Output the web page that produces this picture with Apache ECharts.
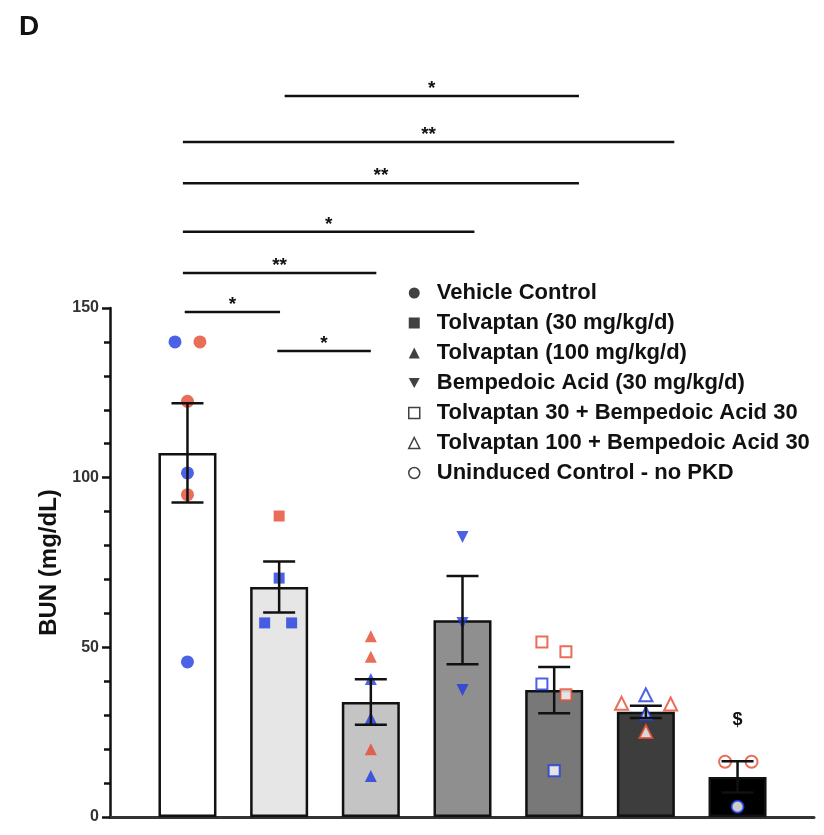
<!doctype html>
<html>

<head>
	<meta charset="utf-8">
	<script src="https://cdn.jsdelivr.net/npm/echarts@6/dist/echarts.min.js"></script>
	<style>
		html, body { margin: 0; padding: 0; background: #fff; }
		#chart { width: 824px; height: 835px; }
	</style>
</head>

<body>
	<div id="chart"></div>
</body>
<script type="text/javascript">
	// groups, in order along the x axis
	var groupNames = [
		'Vehicle Control',
		'Tolvaptan (30 mg/kg/d)',
		'Tolvaptan (100 mg/kg/d)',
		'Bempedoic Acid (30 mg/kg/d)',
		'Tolvaptan 30 + Bempedoic Acid 30',
		'Tolvaptan 100 + Bempedoic Acid 30',
		'Uninduced Control - no PKD'
	];
	var meanValues = [107.3, 67.8, 33.9, 58.0, 37.4, 31.0, 11.8];
	var semValues = [14.6, 7.5, 6.7, 13.0, 6.8, 1.8, 4.6];

	// individual animals per group (value, jitter in category units, colour b/r)
	var vehicleVals = [140, 140, 122.5, 101.4, 95.0, 45.7];
	var vehicleJitter = [-0.136, 0.136, 0, 0, 0, 0];
	var vehicleColor = ['b', 'r', 'r', 'b', 'r', 'b'];

	var tol30Vals = [88.7, 70.4, 57.2, 57.2];
	var tol30Jitter = [0, 0, -0.158, 0.136];
	var tol30Color = ['r', 'b', 'b', 'b'];

	var tol100Vals = [53.3, 47.2, 40.7, 29.2, 20.0, 12.1];
	var tol100Jitter = [0, 0, 0, 0, 0, 0];
	var tol100Color = ['r', 'r', 'b', 'b', 'r', 'b'];

	var bempVals = [82.5, 57.2, 37.4];
	var bempJitter = [0, 0, 0];
	var bempColor = ['b', 'b', 'b'];

	var combo30Vals = [51.6, 48.7, 39.2, 36.0, 13.6];
	var combo30Jitter = [-0.134, 0.128, -0.134, 0.128, 0];
	var combo30Color = ['r', 'r', 'b', 'r', 'b'];

	var combo100Vals = [33.5, 36.0, 33.3, 30.5, 25.2];
	var combo100Jitter = [-0.265, 0, 0.27, 0, 0];
	var combo100Color = ['r', 'b', 'r', 'b', 'r'];

	var uninducedVals = [16.3, 16.3, 3.0];
	var uninducedJitter = [-0.136, 0.153, 0];
	var uninducedColor = ['r', 'r', 'b'];

	// significance brackets: from, to (category units), height (mg/dL), label
	var bracketFrom = [1.06, -0.05, -0.05, -0.05, -0.05, -0.03, 0.98];
	var bracketTo = [4.27, 5.31, 4.27, 3.13, 2.06, 1.01, 2.0];
	var bracketLevel = [212.5, 198.9, 186.8, 172.5, 160.3, 148.8, 137.3];
	var bracketText = ['*', '**', '**', '*', '**', '*', '*'];

	var noteX = [6];
	var noteY = [28.6];
	var noteText = ['$'];

	var yTicks = [0, 50, 100, 150];

	var barColors = ['#ffffff', '#e6e6e6', '#c4c4c4', '#8f8f8f', '#787878', '#3d3d3d', '#000000'];
	var shapes = ['circle', 'rect', 'triangle', 'path://M0,0L2,0L1,1.8Z', 'rect', 'triangle', 'circle'];
	var sizes = [13, 11, 12, 12, 11, 13, 12];
	var openMarker = [false, false, false, false, true, true, true];
	var pal = { b: '#1f3be0', r: '#e4482e' };

	var pointSets = [
		[vehicleVals, vehicleJitter, vehicleColor],
		[tol30Vals, tol30Jitter, tol30Color],
		[tol100Vals, tol100Jitter, tol100Color],
		[bempVals, bempJitter, bempColor],
		[combo30Vals, combo30Jitter, combo30Color],
		[combo100Vals, combo100Jitter, combo100Color],
		[uninducedVals, uninducedJitter, uninducedColor]
	];

	var series = [];

	series.push({
		type: 'bar',
		barWidth: 58,
		z: 1,
		data: meanValues.map(function(v, i) {
			return {
				value: [i, v],
				itemStyle: { color: barColors[i], borderColor: '#111', borderWidth: 2.5 }
			};
		}),
		silent: true
	});

	pointSets.forEach(function(set, g) {
		var vals = set[0], jit = set[1], cols = set[2];
		series.push({
			name: groupNames[g],
			type: 'scatter',
			symbol: shapes[g],
			symbolSize: sizes[g],
			z: 2,
			data: vals.map(function(v, k) {
				var c = pal[cols[k]];
				return {
					value: [g + jit[k], v],
					itemStyle: openMarker[g] ?
						{ color: '#fff', borderColor: c, borderWidth: 2 } :
						{ color: c, borderWidth: 0 }
				};
			})
		});
	});

	// error bars (mean +/- SEM)
	series.push({
		type: 'custom',
		z: 3,
		silent: true,
		data: meanValues.map(function(v, i) {
			return [i, v - semValues[i], v + semValues[i]];
		}),
		renderItem: function(params, api) {
			var lo = api.coord([api.value(0), api.value(1)]);
			var hi = api.coord([api.value(0), api.value(2)]);
			var w = 16;
			var st = { stroke: '#111', lineWidth: 2.5 };
			return {
				type: 'group',
				children: [
					{ type: 'line', shape: { x1: lo[0], y1: lo[1], x2: hi[0], y2: hi[1] }, style: st },
					{ type: 'line', shape: { x1: lo[0] - w, y1: lo[1], x2: lo[0] + w, y2: lo[1] }, style: st },
					{ type: 'line', shape: { x1: hi[0] - w, y1: hi[1], x2: hi[0] + w, y2: hi[1] }, style: st }
				]
			};
		}
	});

	// significance brackets
	series.push({
		type: 'custom',
		z: 3,
		silent: true,
		clip: false,
		data: bracketLevel.map(function(lv, i) {
			return [bracketFrom[i], bracketTo[i], lv];
		}),
		renderItem: function(params, api) {
			var a = api.coord([api.value(0), api.value(2)]);
			var b = api.coord([api.value(1), api.value(2)]);
			return {
				type: 'group',
				children: [
					{ type: 'line', shape: { x1: a[0], y1: a[1], x2: b[0], y2: b[1] }, style: { stroke: '#111', lineWidth: 2.5 } },
					{
						type: 'text',
						x: (a[0] + b[0]) / 2,
						y: a[1] - 7,
						style: {
							text: bracketText[params.dataIndex],
							fill: '#111',
							font: 'bold 19px "Liberation Sans", Arial, sans-serif',
							align: 'center',
							verticalAlign: 'middle'
						}
					}
				]
			};
		}
	});

	series.push({
		type: 'custom',
		z: 3,
		silent: true,
		clip: false,
		data: noteX.map(function(x, i) { return [x, noteY[i]]; }),
		renderItem: function(params, api) {
			var p = api.coord([api.value(0), api.value(1)]);
			return {
				type: 'text',
				x: p[0],
				y: p[1],
				style: {
					text: noteText[params.dataIndex],
					fill: '#111',
					font: 'bold 18px "Liberation Sans", Arial, sans-serif',
					align: 'center',
					verticalAlign: 'middle'
				}
			};
		}
	});

	var legendData = groupNames.map(function(n, g) {
		return {
			name: n,
			icon: shapes[g],
			itemStyle: openMarker[g] ?
				{ color: '#fff', borderColor: '#111', borderWidth: 1.5 } :
				{ color: '#111', borderWidth: 0 }
		};
	});

	var myChart = echarts.init(document.getElementById('chart'));
	var option = {
		animation: false,
		backgroundColor: '#fff',
		title: {
			text: 'D',
			left: 14,
			top: 8,
			textStyle: { fontSize: 28, fontWeight: 'bold', color: '#111', fontFamily: 'Liberation Sans' }
		},
		legend: {
			orient: 'vertical',
			left: 403,
			top: 277,
			itemWidth: 11,
			itemHeight: 11,
			itemGap: 8,
			selectedMode: false,
			data: legendData,
			textStyle: {
				fontSize: 22,
				fontWeight: 'bold',
				color: '#111',
				fontFamily: 'Liberation Sans',
				lineHeight: 22,
				padding: [0, 0, 0, 12]
			}
		},
		grid: {
			left: 110,
			right: 10,
			top: 308,
			bottom: 18
		},
		xAxis: {
			type: 'value',
			min: -0.845,
			max: 6.834,
			axisLine: { show: true, onZero: false, lineStyle: { color: '#333', width: 3 } },
			axisTick: { show: false },
			axisLabel: { show: false },
			splitLine: { show: false }
		},
		yAxis: {
			type: 'value',
			min: yTicks[0],
			max: yTicks[yTicks.length - 1],
			interval: 50,
			name: 'BUN (mg/dL)',
			nameLocation: 'middle',
			nameGap: 48,
			nameTextStyle: { fontSize: 24, fontWeight: 'bold', color: '#111', fontFamily: 'Liberation Sans' },
			axisLine: { show: true, onZero: false, lineStyle: { color: '#111', width: 2.5 } },
			axisTick: { show: true, length: 8, lineStyle: { color: '#111', width: 2.5 } },
			minorTick: { show: true, splitNumber: 5, length: 6, lineStyle: { color: '#111', width: 2.5 } },
			axisLabel: {
				margin: 11,
				fontSize: 16,
				fontWeight: 'bold',
				color: '#333',
				fontFamily: 'Liberation Sans'
			},
			splitLine: { show: false }
		},
		series: series
	};
	myChart.setOption(option);
</script>

</html>
